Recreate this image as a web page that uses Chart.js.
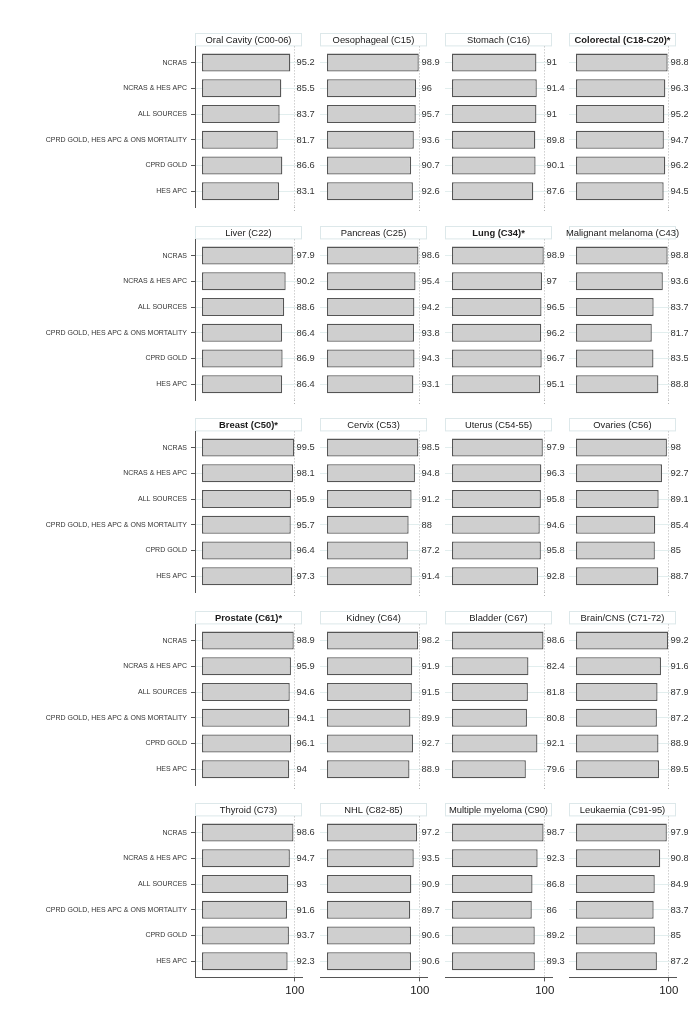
<!DOCTYPE html>
<html>
<head>
<meta charset="utf-8">
<script src="https://cdn.jsdelivr.net/npm/chart.js@4/dist/chart.umd.min.js"></script>
<style>
  html, body { margin: 0; padding: 0; background: #ffffff; }
  body { width: 688px; height: 1032px; position: relative; overflow: hidden; }
  canvas { position: absolute; }
</style>
</head>
<body>
<script>
// ---------- data ----------
const categories = ['NCRAS', 'NCRAS & HES APC', 'ALL SOURCES', 'CPRD GOLD, HES APC & ONS MORTALITY', 'CPRD GOLD', 'HES APC'];

const titles = [
  'Oral Cavity (C00-06)', 'Oesophageal (C15)', 'Stomach (C16)', 'Colorectal (C18-C20)*',
  'Liver (C22)', 'Pancreas (C25)', 'Lung (C34)*', 'Malignant melanoma (C43)',
  'Breast (C50)*', 'Cervix (C53)', 'Uterus (C54-55)', 'Ovaries (C56)',
  'Prostate (C61)*', 'Kidney (C64)', 'Bladder (C67)', 'Brain/CNS (C71-72)',
  'Thyroid (C73)', 'NHL (C82-85)', 'Multiple myeloma (C90)', 'Leukaemia (C91-95)'
];
const boldTitles = ['Colorectal (C18-C20)*', 'Lung (C34)*', 'Breast (C50)*', 'Prostate (C61)*'];

const oralCavity  = [95.2, 85.5, 83.7, 81.7, 86.6, 83.1];
const oesophageal = [98.9, 96, 95.7, 93.6, 90.7, 92.6];
const stomach     = [91, 91.4, 91, 89.8, 90.1, 87.6];
const colorectal  = [98.8, 96.3, 95.2, 94.7, 96.2, 94.5];
const liver       = [97.9, 90.2, 88.6, 86.4, 86.9, 86.4];
const pancreas    = [98.6, 95.4, 94.2, 93.8, 94.3, 93.1];
const lung        = [98.9, 97, 96.5, 96.2, 96.7, 95.1];
const melanoma    = [98.8, 93.6, 83.7, 81.7, 83.5, 88.8];
const breast      = [99.5, 98.1, 95.9, 95.7, 96.4, 97.3];
const cervix      = [98.5, 94.8, 91.2, 88, 87.2, 91.4];
const uterus      = [97.9, 96.3, 95.8, 94.6, 95.8, 92.8];
const ovaries     = [98, 92.7, 89.1, 85.4, 85, 88.7];
const prostate    = [98.9, 95.9, 94.6, 94.1, 96.1, 94];
const kidney      = [98.2, 91.9, 91.5, 89.9, 92.7, 88.9];
const bladder     = [98.6, 82.4, 81.8, 80.8, 92.1, 79.6];
const brain       = [99.2, 91.6, 87.9, 87.2, 88.9, 89.5];
const thyroid     = [98.6, 94.7, 93, 91.6, 93.7, 92.3];
const nhl         = [97.2, 93.5, 90.9, 89.7, 90.6, 90.6];
const myeloma     = [98.7, 92.3, 86.8, 86, 89.2, 89.3];
const leukaemia   = [97.9, 90.8, 84.9, 83.7, 85, 87.2];

const panelValues = [
  oralCavity, oesophageal, stomach, colorectal,
  liver, pancreas, lung, melanoma,
  breast, cervix, uterus, ovaries,
  prostate, kidney, bladder, brain,
  thyroid, nhl, myeloma, leukaemia
];
const xTickValues = [100];
const labelAnchor = 100;

// ---------- layout ----------
const FONT = "'Liberation Sans', Arial, Helvetica, sans-serif";
const colLeft = [195, 319.8, 444.5, 569.2];
const plotW = 107;
const rowTop0 = 33.3, rowPitch = 192.5;
const titleH = 13.4, plotH = 161;
const rightPad = 17;

const panelPlugin = {
  id: 'panelDeco',
  beforeDraw(chart, args, opts) {
    const ctx = chart.ctx, a = chart.chartArea;
    ctx.save();
    ctx.fillStyle = '#ffffff';
    ctx.fillRect(a.left, 0.5, a.right - a.left, titleH - 1);
    ctx.strokeStyle = '#dde8ea';
    ctx.lineWidth = 1;
    ctx.strokeRect(a.left + 0.5, 0.5, a.right - a.left - 1, titleH - 1);
    ctx.fillStyle = '#1a1a1a';
    ctx.font = (opts.bold ? 'bold ' : '') + '9.4px ' + FONT;
    ctx.textAlign = 'center';
    ctx.textBaseline = 'middle';
    ctx.fillText(opts.title, (a.left + a.right) / 2, titleH / 2 + 0.3);
    ctx.restore();
  },
  afterDatasetsDraw(chart) {
    const ctx = chart.ctx;
    const meta = chart.getDatasetMeta(0);
    const xs = chart.scales.x;
    const x = xs.getPixelForValue(labelAnchor) + 1.8;
    ctx.save();
    ctx.fillStyle = '#333333';
    ctx.font = '9.3px ' + FONT;
    ctx.textAlign = 'left';
    ctx.textBaseline = 'middle';
    meta.data.forEach((bar, i) => {
      const v = chart.data.datasets[0].data[i].x;
      ctx.fillText(String(v), x, bar.y + 0.3);
    });
    ctx.restore();
  }
};

panelValues.forEach((vals, p) => {
  const r = Math.floor(p / 4), c = p % 4;
  const isLastRow = r === 4;
  const firstCol = c === 0;
  const leftSpace = firstCol ? colLeft[0] : 5;
  const canvasLeft = colLeft[c] - leftSpace;
  const canvasTop = rowTop0 + rowPitch * r;
  const W = Math.round(leftSpace + plotW + rightPad);
  const H = isLastRow ? 215 : 192;
  const xAxisH = H - titleH - plotH;

  const cv = document.createElement('canvas');
  cv.width = W;
  cv.height = H;
  cv.style.left = canvasLeft + 'px';
  cv.style.top = canvasTop + 'px';
  cv.style.width = W + 'px';
  cv.style.height = H + 'px';
  document.body.appendChild(cv);

  new Chart(cv, {
    type: 'bar',
    data: {
      datasets: [{
        data: vals.map((v, i) => ({ x: v, y: i })),
        backgroundColor: '#cfcfcf',
        borderColor: '#555555',
        borderWidth: 1.3,
        borderSkipped: false,
        categoryPercentage: 1,
        barPercentage: 0.7
      }]
    },
    options: {
      indexAxis: 'y',
      responsive: false,
      animation: false,
      devicePixelRatio: 1,
      layout: { padding: { top: titleH, right: W - leftSpace - plotW, bottom: 0, left: 0 } },
      plugins: {
        legend: { display: false },
        tooltip: { enabled: false },
        title: { display: false },
        panelDeco: { title: titles[p], bold: boldTitles.includes(titles[p]) }
      },
      scales: {
        x: {
          type: 'linear',
          min: -7.55,
          max: 107.8,
          offset: false,
          afterBuildTicks: (s) => { s.ticks = xTickValues.map(v => ({ value: v })); },
          afterFit: (s) => { s.height = xAxisH; },
          ticks: {
            display: isLastRow,
            color: '#222222',
            font: { family: FONT, size: 11.5 },
            padding: 3,
            maxRotation: 0
          },
          grid: {
            display: true,
            offset: false,
            drawOnChartArea: true,
            color: '#b4b4b4',
            lineWidth: 1,
            drawTicks: true,
            tickLength: isLastRow ? 4 : 5,
            tickColor: isLastRow ? '#555555' : '#b4b4b4',
            tickBorderDash: isLastRow ? [] : [1, 2],
            tickWidth: 1
          },
          border: {
            display: isLastRow,
            color: '#555555',
            width: 1,
            dash: [1, 2]
          }
        },
        y: {
          type: 'linear',
          reverse: true,
          offset: false,
          min: -0.63,
          max: 5.63,
          afterBuildTicks: (s) => { s.ticks = categories.map((_, i) => ({ value: i })); },
          afterFit: (s) => { s.width = leftSpace; },
          ticks: {
            display: firstCol,
            color: '#333333',
            font: { family: FONT, size: 7 },
            padding: 4,
            callback: (v) => categories[v]
          },
          grid: {
            display: true,
            offset: false,
            drawOnChartArea: true,
            color: '#e2eeee',
            lineWidth: 1,
            drawTicks: firstCol,
            tickLength: 4,
            tickColor: '#555555',
            tickWidth: 1
          },
          border: {
            display: firstCol,
            color: '#555555',
            width: 1
          }
        }
      }
    },
    plugins: [panelPlugin]
  });
});
</script>
</body>
</html>
